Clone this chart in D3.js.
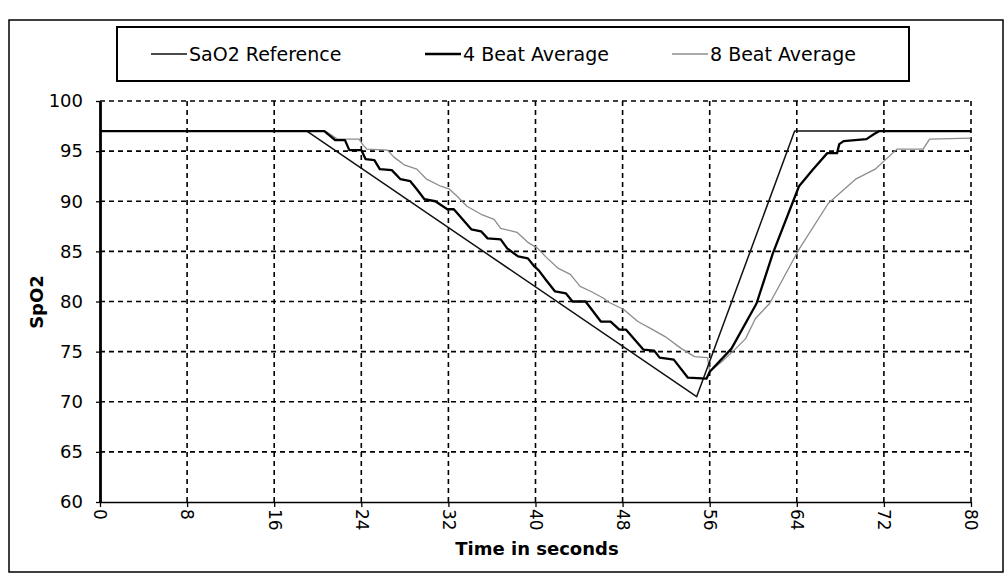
<!DOCTYPE html>
<html>
<head>
<meta charset="utf-8">
<script src="https://cdn.jsdelivr.net/npm/d3@7"></script>
<style>
  html, body { margin: 0; padding: 0; background: #fff; }
  svg { display: block; }
  text { font-family: "DejaVu Sans", sans-serif; fill: #000; }
</style>
</head>
<body>
<svg id="chart" width="1007" height="579"></svg>
<script>
// ---- data (time in seconds, SpO2 %) ----
const xTicks = [0, 8, 16, 24, 32, 40, 48, 56, 64, 72, 80];
const yTicks = [60, 65, 70, 75, 80, 85, 90, 95, 100];
const seriesNames = ["SaO2 Reference", "4 Beat Average", "8 Beat Average"];

const saO2Reference = [[0, 97], [19, 97], [54.8, 70.5], [63.8, 97], [80, 97]];

const beat4Average = [
  [0, 97], [20.6, 97], [21.6, 96.1], [22.5, 96.1], [22.9, 95.1], [24, 95.1], [24.4, 94.2],
  [25.2, 94.1], [25.7, 93.2], [26.8, 93.1], [27.6, 92.2], [28.5, 92], [29.1, 91.2],
  [29.8, 90.2], [30.8, 90], [31.9, 89.2], [32.5, 89.2], [33.3, 88.2], [34.1, 87.2],
  [35, 87], [35.6, 86.3], [36.8, 86.2], [37.4, 85.3], [38.4, 84.5], [39.3, 84.3],
  [39.9, 83.5], [40.3, 83.1], [41, 82.1], [41.8, 81], [42.8, 80.8], [43.4, 80],
  [44.6, 80], [46, 78], [46.9, 78], [47.7, 77.2], [48.3, 77.2], [49.9, 75.2],
  [50.9, 75.1], [51.4, 74.4], [52.7, 74.2], [54, 72.4], [55.7, 72.3], [56, 73],
  [58, 75.3], [60.3, 79.8], [61.8, 84.8], [64.2, 91.5], [65.5, 93.2], [66.8, 94.8],
  [67.7, 94.8], [67.9, 95.7], [68.3, 96], [70.4, 96.2], [71.1, 96.7], [71.6, 97], [80, 97]
];

const beat8Average = [
  [0, 97], [20.7, 97], [21.8, 96.2], [23.8, 96.2], [24.1, 95.7], [24.5, 95.2], [26.4, 95.1],
  [27, 94.4], [28, 93.6], [29.1, 93.2], [30, 92.2], [31.3, 91.5], [32.1, 91.2],
  [32.8, 90.5], [33.7, 89.5], [35, 88.7], [36.2, 88.2], [36.8, 87.3], [38.3, 86.9],
  [39.3, 85.9], [40.2, 85.3], [41, 84.4], [42.1, 83.3], [43.2, 82.7], [44.1, 81.5],
  [45.1, 81], [46.3, 80.3], [46.6, 80], [48.1, 79.2], [49.4, 78], [50.6, 77.3],
  [51.9, 76.5], [53.4, 75.3], [54.6, 74.5], [55.8, 74.4], [56, 73], [57.1, 74],
  [58.3, 75.2], [59.3, 76.3], [60.2, 78.3], [61.5, 79.8], [64.2, 85.2], [66.9, 89.8],
  [69.4, 92.2], [71.2, 93.2], [72.2, 94.2], [73.2, 95.2], [75.6, 95.2], [76.2, 96.2], [80, 96.3]
];

// ---- drawing ----
const svg = d3.select("#chart");

// outer frame
svg.append("rect")
  .attr("x", 9).attr("y", 20).attr("width", 994).attr("height", 552)
  .attr("fill", "none").attr("stroke", "#000").attr("stroke-width", 1.5);

const x = d3.scaleLinear().domain([0, 80]).range([100, 971]);
const y = d3.scaleLinear().domain([60, 100]).range([502, 101]);

// grid lines
const grid = svg.append("g").attr("stroke", "#000").attr("stroke-width", 1.6)
  .attr("stroke-dasharray", "5,4");
grid.selectAll("line.h").data(yTicks.filter(d => d > 60)).join("line")
  .attr("class", "h")
  .attr("x1", x(0)).attr("x2", x(80))
  .attr("y1", d => y(d)).attr("y2", d => y(d));
grid.selectAll("line.v").data(xTicks.filter(d => d > 0)).join("line")
  .attr("class", "v")
  .attr("x1", d => x(d)).attr("x2", d => x(d))
  .attr("y1", y(100)).attr("y2", y(60));

// series
const line = d3.line().x(d => x(d[0])).y(d => y(d[1]));
const styles = [
  { data: beat8Average, color: "#8c8c8c", width: 1.3 },
  { data: saO2Reference, color: "#111", width: 1.5 },
  { data: beat4Average, color: "#000", width: 2.3 }
];
svg.append("g").selectAll("path").data(styles).join("path")
  .attr("d", d => line(d.data))
  .attr("fill", "none")
  .attr("stroke", d => d.color)
  .attr("stroke-width", d => d.width)
  .attr("stroke-linejoin", "round");

// x axis
const xAxis = svg.append("g").attr("transform", `translate(0,${y(60)})`)
  .call(d3.axisBottom(x).tickValues(xTicks).tickSize(5).tickSizeOuter(0));
xAxis.select(".domain").attr("stroke", "#000").attr("stroke-width", 1.6);
xAxis.selectAll(".tick line").attr("stroke", "#000").attr("stroke-width", 1.3);
xAxis.selectAll(".tick text")
  .attr("transform", "rotate(90)")
  .attr("x", 7).attr("y", 0).attr("dy", "0.36em")
  .style("text-anchor", "start")
  .style("font-size", "17px")
  .style("font-family", "DejaVu Sans, sans-serif");

// y axis
const yAxis = svg.append("g").attr("transform", `translate(${x(0)},0)`)
  .call(d3.axisLeft(y).tickValues(yTicks).tickSize(4).tickPadding(13).tickSizeOuter(0));
yAxis.select(".domain").attr("stroke", "#000").attr("stroke-width", 2.8);
yAxis.selectAll(".tick line").attr("stroke", "#000").attr("stroke-width", 1.3);
yAxis.selectAll(".tick text")
  .style("font-size", "18px")
  .style("font-family", "DejaVu Sans, sans-serif");

// axis titles
svg.append("text")
  .attr("x", 537).attr("y", 555)
  .attr("text-anchor", "middle")
  .style("font-size", "18px").style("font-weight", "bold")
  .text("Time in seconds");
svg.append("text")
  .attr("transform", "translate(43,302) rotate(-90)")
  .attr("text-anchor", "middle")
  .style("font-size", "18px").style("font-weight", "bold")
  .text("SpO2");

// legend
const legend = svg.append("g");
legend.append("rect")
  .attr("x", 117).attr("y", 27).attr("width", 792).attr("height", 54)
  .attr("fill", "#fff").attr("stroke", "#000").attr("stroke-width", 2);
const legendItems = [
  { name: seriesNames[0], x0: 151, color: "#111", width: 1.5 },
  { name: seriesNames[1], x0: 425, color: "#000", width: 2.3 },
  { name: seriesNames[2], x0: 672, color: "#8c8c8c", width: 1.3 }
];
const li = legend.selectAll("g.item").data(legendItems).join("g").attr("class", "item");
li.append("line")
  .attr("x1", d => d.x0).attr("x2", d => d.x0 + 36)
  .attr("y1", 54).attr("y2", 54)
  .attr("stroke", d => d.color).attr("stroke-width", d => d.width);
li.append("text")
  .attr("x", d => d.x0 + 38).attr("y", 54).attr("dy", "0.36em")
  .style("font-size", "19px")
  .text(d => d.name);
</script>
</body>
</html>
